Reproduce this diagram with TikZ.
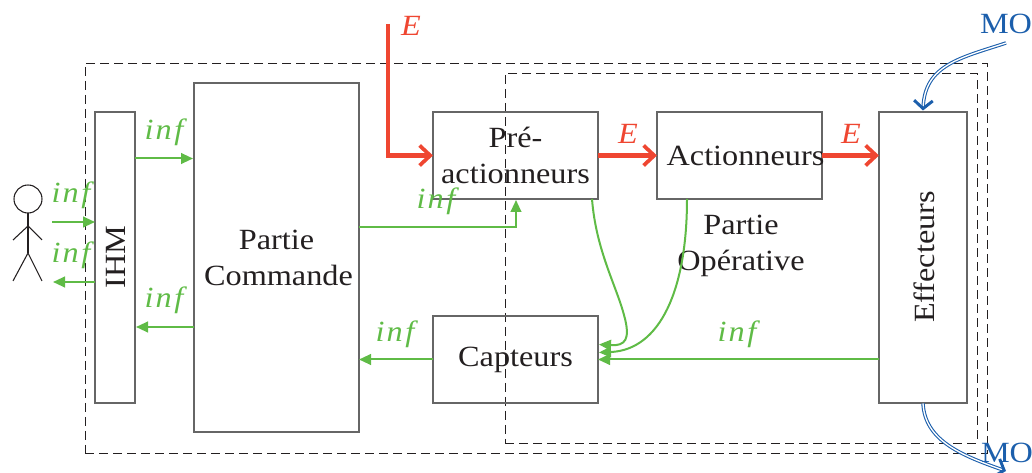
\documentclass[tikz,border=0pt]{standalone}
\usepackage{fontspec}
\setmainfont[FakeStretch=1.1]{Liberation Serif}
\usetikzlibrary{arrows.meta,calc}
\definecolor{grn}{HTML}{5FBB46}
\definecolor{rd}{HTML}{EF4631}
\definecolor{blu}{HTML}{1C5FAC}
\definecolor{ink}{HTML}{231F20}
\definecolor{bord}{HTML}{666666}
\tikzset{
  blockbox/.style={draw=bord,line width=0.85pt,inner sep=0pt,outer sep=0pt,align=center,text=ink,
    font=\fontsize{22}{27}\selectfont},
  zonebox/.style={draw=ink,dashed,dash pattern=on 6.5pt off 4pt,line width=0.7pt,inner sep=0pt,outer sep=0pt},
  plain/.style={inner sep=0pt,outer sep=0pt,align=center,text=ink,font=\fontsize{22}{27}\selectfont},
  infolink/.style={draw=grn,line width=1.5pt,-{Triangle[length=9pt,width=8pt]}},
  powerlink/.style={draw=rd,line width=3.2pt,-{Straight Barb[length=8pt,width=15pt,line width=2.8pt]}},
  energylink/.style={draw=blu,double=white,double distance=1pt,line width=0.8pt,-{Straight Barb[length=6pt,width=14pt,line width=2.2pt]}},
  infolabel/.style={inner sep=0pt,text=grn,font=\fontsize{22}{24}\selectfont\itshape},
  powerlabel/.style={inner sep=0pt,text=rd,font=\fontsize{22}{24}\selectfont\itshape},
  molabel/.style={inner sep=0pt,text=blu,font=\fontsize{22}{24}\selectfont},
  person/.style={draw=ink,line width=0.8pt}
}
\newcommand{\inflbl}{i\kern1.5pt n\kern2pt f}
\begin{document}
\begin{tikzpicture}[x=0.75pt,y=-0.75pt]
\useasboundingbox (0,0) rectangle (1032,473);
% zones
\node[zonebox,minimum width=676.5pt,minimum height=292.5pt] (po1) at (536,258) {};
\node[zonebox,minimum width=354pt,minimum height=277.5pt] (po2) at (741,258) {};
% blocks
\node[blockbox,minimum width=30pt,minimum height=218.25pt] (ihm) at (115,257.5) {};
\node[plain,rotate=90] (ihmt) at (116,257) {IHM};
\node[blockbox,minimum width=123.75pt,minimum height=261.75pt] (pc) at (276.5,257.5) {Partie\\\hspace*{3pt}Commande};
\node[blockbox,minimum width=123.75pt,minimum height=65.25pt] (pre) at (515.5,155.5) {Pré-\\actionneurs};
\node[blockbox,minimum width=123.75pt,minimum height=65.25pt] (act) at (739.5,155.5) {};
\node[plain] (actt) at (745.5,156) {Actionneurs};
\node[blockbox,minimum width=66pt,minimum height=218.25pt] (eff) at (923,257.5) {};
\node[plain,rotate=90] (efft) at (924,257) {Effecteurs};
\node[blockbox,minimum width=123.75pt,minimum height=65.25pt] (cap) at (515.5,359.5) {Capteurs};
\node[plain] (pop) at (741,246) {Partie\\Opérative};
% person
\node[person,circle,minimum size=21pt,inner sep=0pt,outer sep=0pt] (head) at (28,199) {};
\coordinate (shoulder) at (28,226);
\coordinate (hip) at (28,253);
\draw[person] (head.south) -- (hip);
\draw[person] (13,240) -- (shoulder) -- (42,240);
\draw[person] (13,281) -- (hip) -- (42,281);
% coordinates
\coordinate (hin) at (52,222);
\coordinate (hout) at (53,282);
\coordinate (estart) at (388,24);
\coordinate (motop) at (1006,43);
\coordinate (mobot) at (1006,471);
% green links
\draw[infolink] (hin) -- (ihm.west |- hin);
\draw[infolink] (ihm.west |- hout) -- (hout);
\draw[infolink] (ihm.east |- 0,158.5) -- ($(pc.west |- 0,158.5)+(-1,0)$);
\draw[infolink] (pc.west |- 0,327) -- ($(ihm.east |- 0,327)+(1,0)$);
\draw[infolink] (pc.east |- 0,227) -- (516,227) -- ($(pre.south)+(0.5,1)$);
\draw[infolink] (cap.west) -- (pc.east |- cap.west);
\draw[infolink] (eff.west |- cap.east) -- (cap.east);
\draw[infolink] (592,199) .. controls (596,250) and (616,285) .. (624,315) .. controls (631,340) and (625,346) .. ($(cap.east)+(1,-15)$);
\draw[infolink] (687,199) .. controls (687,290) and (660,350) .. ($(cap.east)+(1,-7)$);
% red links
\draw[powerlink,line join=miter] (estart) -- (388,155.5) -- (pre.west);
\draw[powerlink] (pre.east) -- (act.west);
\draw[powerlink] (act.east) -- (eff.west |- act.east);
% blue links
\draw[energylink] (motop) .. controls (960,58) and (925,65) .. (923,110.5);
\draw[energylink] (923,403.5) .. controls (925,440) and (960,455) .. (mobot);
% labels
\node[infolabel] (l1) at (71,195.5) {\inflbl};
\node[infolabel] (l2) at (71,255.5) {\inflbl};
\node[infolabel] (l3) at (164,132.5) {\inflbl};
\node[infolabel] (l4) at (164,300.5) {\inflbl};
\node[infolabel] (l5) at (436,201.5) {\inflbl};
\node[infolabel] (l6) at (395,334.5) {\inflbl};
\node[infolabel] (l7) at (737,334.5) {\inflbl};
\node[powerlabel] (e1) at (411,26) {E};
\node[powerlabel] (e2) at (628,134) {E};
\node[powerlabel] (e3) at (851,134) {E};
\node[molabel] (m1) at (1006,24) {MO};
\node[molabel] (m2) at (1007,453) {MO};
\end{tikzpicture}
\end{document}
